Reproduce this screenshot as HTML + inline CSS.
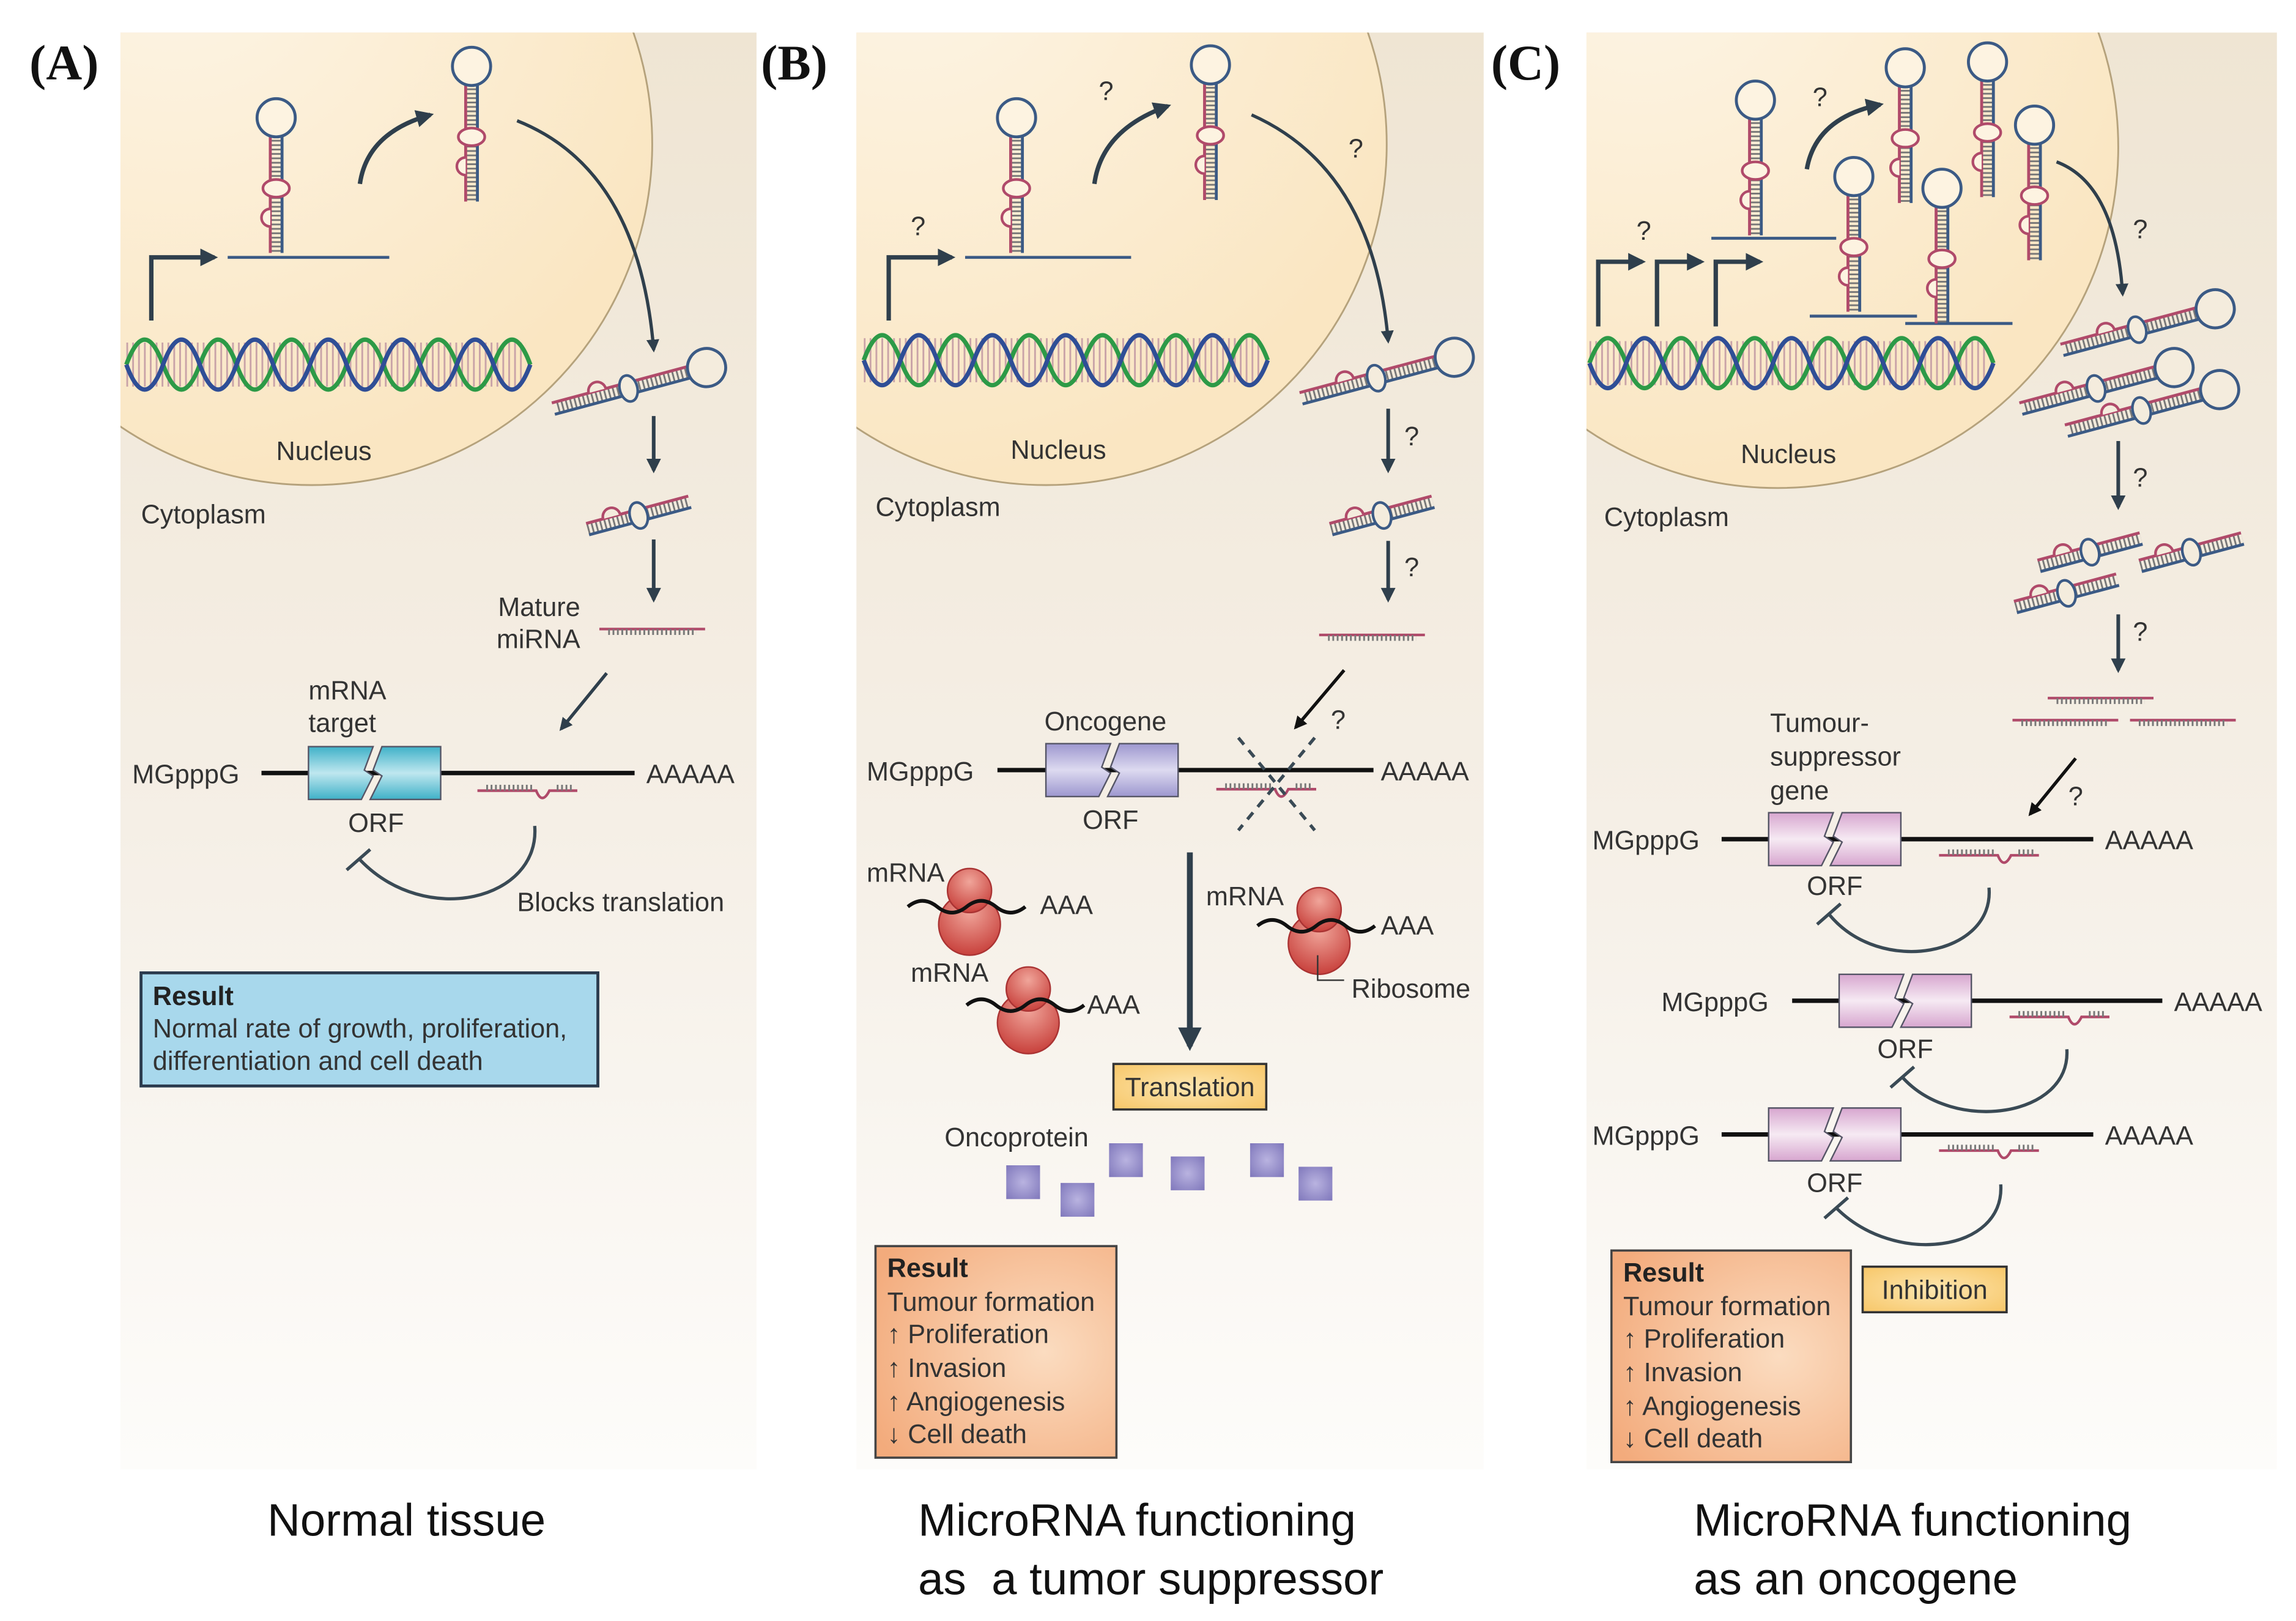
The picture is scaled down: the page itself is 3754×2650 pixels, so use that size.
<!DOCTYPE html>
<html><head><meta charset="utf-8"><style>html,body{margin:0;padding:0;background:#fff}svg{display:block}</style></head>
<body>
<svg width="3754" height="2650" viewBox="0 0 1563 1103" xmlns="http://www.w3.org/2000/svg" font-family="Liberation Sans, sans-serif">
<defs>
<linearGradient id="bg" x1="0" y1="0" x2="0" y2="1"><stop offset="0" stop-color="#efe5d3"/><stop offset="0.55" stop-color="#f5efe6"/><stop offset="1" stop-color="#fdfcfa"/></linearGradient>
<radialGradient id="nuc" cx="0.3" cy="0.2" r="0.8"><stop offset="0" stop-color="#fdf5e6"/><stop offset="1" stop-color="#fae6c2"/></radialGradient>
<pattern id="hr" width="8" height="3" patternUnits="userSpaceOnUse"><rect width="8" height="1.2" fill="#777"/></pattern>
<pattern id="vr" width="3" height="8" patternUnits="userSpaceOnUse"><rect width="1.2" height="8" fill="#777"/></pattern>
<pattern id="dr" width="4" height="40" patternUnits="userSpaceOnUse"><rect width="1.2" height="40" fill="#c9a3a8"/></pattern>
<linearGradient id="cy" x1="0" y1="0" x2="0" y2="1"><stop offset="0" stop-color="#3fb1c8"/><stop offset="0.5" stop-color="#bfe7ef"/><stop offset="1" stop-color="#3fb1c8"/></linearGradient>
<linearGradient id="pu" x1="0" y1="0" x2="0" y2="1"><stop offset="0" stop-color="#9d97cf"/><stop offset="0.5" stop-color="#dddaf0"/><stop offset="1" stop-color="#9d97cf"/></linearGradient>
<linearGradient id="pk" x1="0" y1="0" x2="0" y2="1"><stop offset="0" stop-color="#d7a6cf"/><stop offset="0.5" stop-color="#f6eaf3"/><stop offset="1" stop-color="#d7a6cf"/></linearGradient>
<radialGradient id="rb" cx="0.5" cy="0.3" r="0.7"><stop offset="0" stop-color="#f0a59a"/><stop offset="1" stop-color="#c8413c"/></radialGradient>
<radialGradient id="sq" cx="0.5" cy="0.5" r="0.7"><stop offset="0" stop-color="#b9b3e0"/><stop offset="1" stop-color="#7f77bb"/></radialGradient>
<radialGradient id="ob" cx="0.7" cy="0.5" r="0.8"><stop offset="0" stop-color="#fbdcc0"/><stop offset="1" stop-color="#f3ab7c"/></radialGradient>
<radialGradient id="yb" cx="0.5" cy="0.5" r="0.8"><stop offset="0" stop-color="#fde6b0"/><stop offset="1" stop-color="#f6c25e"/></radialGradient>
<marker id="ah" viewBox="0 0 10 10" refX="8" refY="5" markerWidth="4" markerHeight="4" orient="auto"><path d="M0,0L10,5L0,10z" fill="#2f3f4c"/></marker>
<marker id="ak" viewBox="0 0 10 10" refX="8" refY="5" markerWidth="4" markerHeight="4" orient="auto"><path d="M0,0L10,5L0,10z" fill="#111"/></marker>
<g id="hp">
 <rect x="-4" y="12" width="8" height="80" fill="url(#hr)"/>
 <path d="M-4,10V92" stroke="#b04a6a" stroke-width="2" fill="none"/>
 <path d="M4,10V92" stroke="#3b5a85" stroke-width="2" fill="none"/>
 <circle r="13" fill="#fdf3e1" stroke="#3b5a85" stroke-width="2"/>
 <ellipse cx="0" cy="48" rx="9" ry="6" fill="#fdf3e1" stroke="#b04a6a" stroke-width="1.8"/>
 <path d="M-4,62 a6,6 0 0 0 0,12" fill="#fdf3e1" stroke="#b04a6a" stroke-width="1.8"/>
</g>
<g id="hh">
 <rect x="-105" y="-4" width="93" height="8" fill="url(#vr)"/>
 <path d="M-108,-4H-10" stroke="#b04a6a" stroke-width="2"/>
 <path d="M-108,4H-10" stroke="#3b5a85" stroke-width="2"/>
 <circle r="13" fill="#f4ecdd" stroke="#3b5a85" stroke-width="2"/>
 <ellipse cx="-55" cy="0" rx="6" ry="9" fill="#f4ecdd" stroke="#3b5a85" stroke-width="1.8"/>
 <path d="M-82,-4 a6,6 0 0 1 12,0" fill="#f4ecdd" stroke="#b04a6a" stroke-width="1.8"/>
</g>
<g id="dx">
 <rect x="0" y="-4" width="72" height="8" fill="url(#vr)"/>
 <path d="M0,-4H72" stroke="#b04a6a" stroke-width="2"/>
 <path d="M0,4H72" stroke="#3b5a85" stroke-width="2"/>
 <ellipse cx="36" cy="0" rx="6" ry="9" fill="#f4ecdd" stroke="#3b5a85" stroke-width="1.8"/>
 <path d="M12,-4 a6,6 0 0 1 12,0" fill="#f4ecdd" stroke="#b04a6a" stroke-width="1.8"/>
</g>
<g id="mm"><path d="M0,0H72" stroke="#b04a6a" stroke-width="1.8"/><rect x="6" y="0" width="60" height="4" fill="url(#vr)"/></g>
<g id="mb"><path d="M0,0H40 q4,10 9,0 H68" stroke="#b04a6a" stroke-width="1.8" fill="none"/><rect x="6" y="-4" width="32" height="4" fill="url(#vr)"/><rect x="53" y="-4" width="12" height="4" fill="url(#vr)"/></g>
<g id="dna">
 <rect x="0" y="-15" width="272" height="30" fill="url(#dr)"/>
 <path d="M0,0 q12.5,-34 25,0 t25,0 t25,0 t25,0 t25,0 t25,0 t25,0 t25,0 t25,0 t25,0 t25,0" fill="none" stroke="#2d9a47" stroke-width="3"/>
 <path d="M0,0 q12.5,34 25,0 t25,0 t25,0 t25,0 t25,0 t25,0 t25,0 t25,0 t25,0 t25,0 t25,0" fill="none" stroke="#2f4e96" stroke-width="3"/>
</g>
<g id="rib">
 <circle cx="0" cy="14" r="21" fill="url(#rb)" stroke="#a33" stroke-width="1"/>
 <circle cx="0" cy="-9" r="15" fill="url(#rb)" stroke="#a33" stroke-width="1"/>
 <path d="M-42,2 q10,-8 20,0 t20,0 t20,0 t20,0" fill="none" stroke="#111" stroke-width="2.5"/>
</g>
<g id="orfc"><polygon points="0,0 44,0 38,16 44,20 36,36 0,36" stroke="#556" stroke-width="1"/><polygon points="50,0 90,0 90,36 42,36 50,20 44,16" stroke="#556" stroke-width="1"/></g>
</defs>

<rect width="1563" height="1103" fill="#fff"/>
<rect x="82" y="22" width="433" height="978" fill="url(#bg)"/>
<rect x="583" y="22" width="427" height="978" fill="url(#bg)"/>
<rect x="1080" y="22" width="470" height="978" fill="url(#bg)"/>
<clipPath id="cA"><rect x="82" y="22" width="433" height="978"/></clipPath>
<clipPath id="cB"><rect x="583" y="22" width="427" height="978"/></clipPath>
<clipPath id="cC"><rect x="1080" y="22" width="470" height="978"/></clipPath>
<circle cx="212" cy="98" r="232" fill="url(#nuc)" stroke="#b5a27c" stroke-width="1.2" clip-path="url(#cA)"/>
<circle cx="712" cy="98" r="232" fill="url(#nuc)" stroke="#b5a27c" stroke-width="1.2" clip-path="url(#cB)"/>
<circle cx="1210" cy="100" r="232" fill="url(#nuc)" stroke="#b5a27c" stroke-width="1.2" clip-path="url(#cC)"/>

<g font-family="Liberation Serif, serif" font-weight="bold" font-size="34" fill="#111">
<text x="20" y="54">(A)</text><text x="518" y="54">(B)</text><text x="1015" y="54">(C)</text></g>

<g font-size="18" fill="#333">
<!-- ===== PANEL A ===== -->
<use href="#dna" x="86" y="248"/>
<path d="M103,218V175H146" fill="none" stroke="#2f3f4c" stroke-width="3" marker-end="url(#ah)"/>
<path d="M155,175H265" stroke="#3b5a85" stroke-width="2"/>
<use href="#hp" x="188" y="80"/>
<path d="M245,125 Q250,90 293,78" fill="none" stroke="#2f3f4c" stroke-width="3" marker-end="url(#ah)"/>
<use href="#hp" x="321" y="45"/>
<path d="M352,82 Q435,115 445,238" fill="none" stroke="#2f3f4c" stroke-width="2.2" marker-end="url(#ah)"/>
<use href="#hh" transform="translate(481,250) rotate(-15)"/>
<path d="M445,283V320" stroke="#2f3f4c" stroke-width="2.5" marker-end="url(#ah)"/>
<use href="#dx" transform="translate(400,360) rotate(-15)"/>
<path d="M445,367V408" stroke="#2f3f4c" stroke-width="2.5" marker-end="url(#ah)"/>
<text x="395" y="419" text-anchor="end">Mature</text><text x="395" y="441" text-anchor="end">miRNA</text>
<use href="#mm" x="408" y="428"/>
<path d="M413,458L382,496" stroke="#2f3f4c" stroke-width="2.2" marker-end="url(#ah)"/>
<text x="210" y="476">mRNA</text><text x="210" y="498">target</text>
<text x="90" y="533">MGpppG</text>
<path d="M178,526H432" stroke="#111" stroke-width="3"/>
<use href="#orfc" x="210" y="508" fill="url(#cy)"/>
<text x="440" y="533">AAAAA</text>
<use href="#mb" x="325" y="538"/>
<text x="237" y="566">ORF</text>
<path d="M364,562 C368,612 290,632 245,585" fill="none" stroke="#3a4a55" stroke-width="2.2"/>
<path d="M236,592L252,578" stroke="#3a4a55" stroke-width="2.2"/>
<text x="352" y="620">Blocks translation</text>
<text x="96" y="356">Cytoplasm</text>
<text x="188" y="313">Nucleus</text>
<rect x="96" y="662" width="311" height="77" fill="#a8d8ec" stroke="#2b3b4e" stroke-width="2"/>
<text x="104" y="684" font-weight="bold" fill="#222">Result</text>
<text x="104" y="706">Normal rate of growth, proliferation,</text>
<text x="104" y="728">differentiation and cell death</text>

<!-- ===== PANEL B ===== -->
<use href="#dna" x="588" y="245"/>
<path d="M605,218V175H648" fill="none" stroke="#2f3f4c" stroke-width="3" marker-end="url(#ah)"/>
<text x="620" y="160">?</text>
<path d="M657,175H770" stroke="#3b5a85" stroke-width="2"/>
<use href="#hp" x="692" y="80"/>
<path d="M745,125 Q750,88 795,72" fill="none" stroke="#2f3f4c" stroke-width="3" marker-end="url(#ah)"/>
<text x="748" y="68">?</text>
<use href="#hp" x="824" y="44"/>
<path d="M852,78 Q935,115 945,232" fill="none" stroke="#2f3f4c" stroke-width="2.2" marker-end="url(#ah)"/>
<text x="918" y="107">?</text>
<use href="#hh" transform="translate(990,243) rotate(-15)"/>
<path d="M945,278V320" stroke="#2f3f4c" stroke-width="2.5" marker-end="url(#ah)"/>
<text x="956" y="303">?</text>
<use href="#dx" transform="translate(906,360) rotate(-15)"/>
<path d="M945,368V408" stroke="#2f3f4c" stroke-width="2.5" marker-end="url(#ah)"/>
<text x="956" y="392">?</text>
<use href="#mm" x="898" y="432"/>
<path d="M915,456L882,495" stroke="#111" stroke-width="2.2" marker-end="url(#ak)"/>
<text x="906" y="496">?</text>
<text x="711" y="497">Oncogene</text>
<text x="590" y="531">MGpppG</text>
<path d="M679,524H935" stroke="#111" stroke-width="3"/>
<use href="#orfc" x="712" y="506" fill="url(#pu)"/>
<text x="940" y="531">AAAAA</text>
<use href="#mb" x="828" y="537"/>
<path d="M843,502L895,565M895,502L843,565" stroke="#3a4a55" stroke-width="2.2" stroke-dasharray="6,5"/>
<text x="737" y="564">ORF</text>
<path d="M810,580V712" stroke="#2f3f4c" stroke-width="4" marker-end="url(#ah)"/>
<text x="590" y="600">mRNA</text><use href="#rib" x="660" y="615"/><text x="708" y="622">AAA</text>
<text x="620" y="668">mRNA</text><use href="#rib" x="700" y="682"/><text x="740" y="690">AAA</text>
<text x="821" y="616">mRNA</text><use href="#rib" x="898" y="628"/><text x="940" y="636">AAA</text>
<path d="M897,650V667H915" fill="none" stroke="#333" stroke-width="1"/>
<text x="920" y="679">Ribosome</text>
<rect x="758" y="724" width="104" height="31" fill="url(#yb)" stroke="#333" stroke-width="1.5"/>
<text x="810" y="746" text-anchor="middle">Translation</text>
<text x="643" y="780">Oncoprotein</text>
<g fill="url(#sq)"><rect x="685" y="793" width="23" height="23"/><rect x="722" y="805" width="23" height="23"/><rect x="755" y="778" width="23" height="23"/><rect x="797" y="787" width="23" height="23"/><rect x="851" y="778" width="23" height="23"/><rect x="884" y="794" width="23" height="23"/></g>
<text x="596" y="351">Cytoplasm</text>
<text x="688" y="312">Nucleus</text>
<rect x="596" y="848" width="164" height="144" fill="url(#ob)" stroke="#444" stroke-width="1.5"/>
<text x="604" y="869" font-weight="bold" fill="#222">Result</text>
<text x="604" y="892">Tumour formation</text>
<text x="604" y="914">↑ Proliferation</text>
<text x="604" y="937">↑ Invasion</text>
<text x="604" y="960">↑ Angiogenesis</text>
<text x="604" y="982">↓ Cell death</text>

<!-- ===== PANEL C ===== -->
<use href="#dna" x="1082" y="247"/>
<path d="M1088,222V178H1118" fill="none" stroke="#2f3f4c" stroke-width="3" marker-end="url(#ah)"/>
<path d="M1128,222V178H1158" fill="none" stroke="#2f3f4c" stroke-width="3" marker-end="url(#ah)"/>
<path d="M1168,222V178H1198" fill="none" stroke="#2f3f4c" stroke-width="3" marker-end="url(#ah)"/>
<text x="1114" y="163">?</text>
<path d="M1165,162H1250" stroke="#3b5a85" stroke-width="2"/>
<use href="#hp" x="1195" y="68"/>
<path d="M1230,115 Q1236,80 1280,71" fill="none" stroke="#2f3f4c" stroke-width="3" marker-end="url(#ah)"/>
<text x="1234" y="72">?</text>
<path d="M1232,215H1305" stroke="#3b5a85" stroke-width="2"/>
<use href="#hp" x="1262" y="120"/>
<path d="M1297,220H1370" stroke="#3b5a85" stroke-width="2"/>
<use href="#hp" x="1322" y="128"/>
<use href="#hp" x="1297" y="46"/>
<use href="#hp" x="1353" y="42"/>
<use href="#hp" x="1385" y="85"/>
<path d="M1400,110 Q1440,125 1445,200" fill="none" stroke="#2f3f4c" stroke-width="2.2" marker-end="url(#ah)"/>
<text x="1452" y="162">?</text>
<use href="#hh" transform="translate(1508,210) rotate(-15)"/>
<use href="#hh" transform="translate(1480,250) rotate(-15)"/>
<use href="#hh" transform="translate(1511,265) rotate(-15)"/>
<path d="M1442,300V345" stroke="#2f3f4c" stroke-width="2.5" marker-end="url(#ah)"/>
<text x="1452" y="331">?</text>
<use href="#dx" transform="translate(1388,385) rotate(-15)"/>
<use href="#dx" transform="translate(1457,385) rotate(-15)"/>
<use href="#dx" transform="translate(1372,413) rotate(-15)"/>
<path d="M1442,418V456" stroke="#2f3f4c" stroke-width="2.5" marker-end="url(#ah)"/>
<text x="1452" y="436">?</text>
<use href="#mm" x="1394" y="475"/><use href="#mm" x="1370" y="490"/><use href="#mm" x="1450" y="490"/>
<path d="M1413,516L1382,554" stroke="#111" stroke-width="2.2" marker-end="url(#ak)"/>
<text x="1408" y="548">?</text>
<text x="1205" y="498">Tumour-</text><text x="1205" y="521">suppressor</text><text x="1205" y="544">gene</text>
<text x="1084" y="578">MGpppG</text>
<path d="M1172,571H1425" stroke="#111" stroke-width="3"/>
<use href="#orfc" x="1204" y="553" fill="url(#pk)"/>
<text x="1433" y="578">AAAAA</text>
<use href="#mb" x="1320" y="582"/>
<text x="1230" y="609">ORF</text>
<path d="M1354,604 C1358,650 1280,665 1245,622" fill="none" stroke="#3a4a55" stroke-width="2.2"/>
<path d="M1237,629L1253,615" stroke="#3a4a55" stroke-width="2.2"/>
<text x="1131" y="688">MGpppG</text>
<path d="M1220,681H1472" stroke="#111" stroke-width="3"/>
<use href="#orfc" x="1252" y="663" fill="url(#pk)"/>
<text x="1480" y="688">AAAAA</text>
<use href="#mb" x="1368" y="692"/>
<text x="1278" y="720">ORF</text>
<path d="M1407,714 C1410,760 1330,772 1295,733" fill="none" stroke="#3a4a55" stroke-width="2.2"/>
<path d="M1287,740L1303,726" stroke="#3a4a55" stroke-width="2.2"/>
<text x="1084" y="779">MGpppG</text>
<path d="M1172,772H1425" stroke="#111" stroke-width="3"/>
<use href="#orfc" x="1204" y="754" fill="url(#pk)"/>
<text x="1433" y="779">AAAAA</text>
<use href="#mb" x="1320" y="783"/>
<text x="1230" y="811">ORF</text>
<path d="M1362,806 C1365,852 1290,862 1250,822" fill="none" stroke="#3a4a55" stroke-width="2.2"/>
<path d="M1242,829L1258,815" stroke="#3a4a55" stroke-width="2.2"/>
<rect x="1268" y="862" width="98" height="31" fill="url(#yb)" stroke="#333" stroke-width="1.5"/>
<text x="1317" y="884" text-anchor="middle">Inhibition</text>
<text x="1092" y="358">Cytoplasm</text>
<text x="1185" y="315">Nucleus</text>
<rect x="1097" y="851" width="163" height="144" fill="url(#ob)" stroke="#444" stroke-width="1.5"/>
<text x="1105" y="872" font-weight="bold" fill="#222">Result</text>
<text x="1105" y="895">Tumour formation</text>
<text x="1105" y="917">↑ Proliferation</text>
<text x="1105" y="940">↑ Invasion</text>
<text x="1105" y="963">↑ Angiogenesis</text>
<text x="1105" y="985">↓ Cell death</text>
</g>

<g font-size="31" fill="#111">
<text x="182" y="1045">Normal tissue</text>
<text x="625" y="1045">MicroRNA functioning</text>
<text x="625" y="1085" xml:space="preserve">as  a tumor suppressor</text>
<text x="1153" y="1045">MicroRNA functioning</text>
<text x="1153" y="1085">as an oncogene</text>
</g>
</svg>
</body></html>
